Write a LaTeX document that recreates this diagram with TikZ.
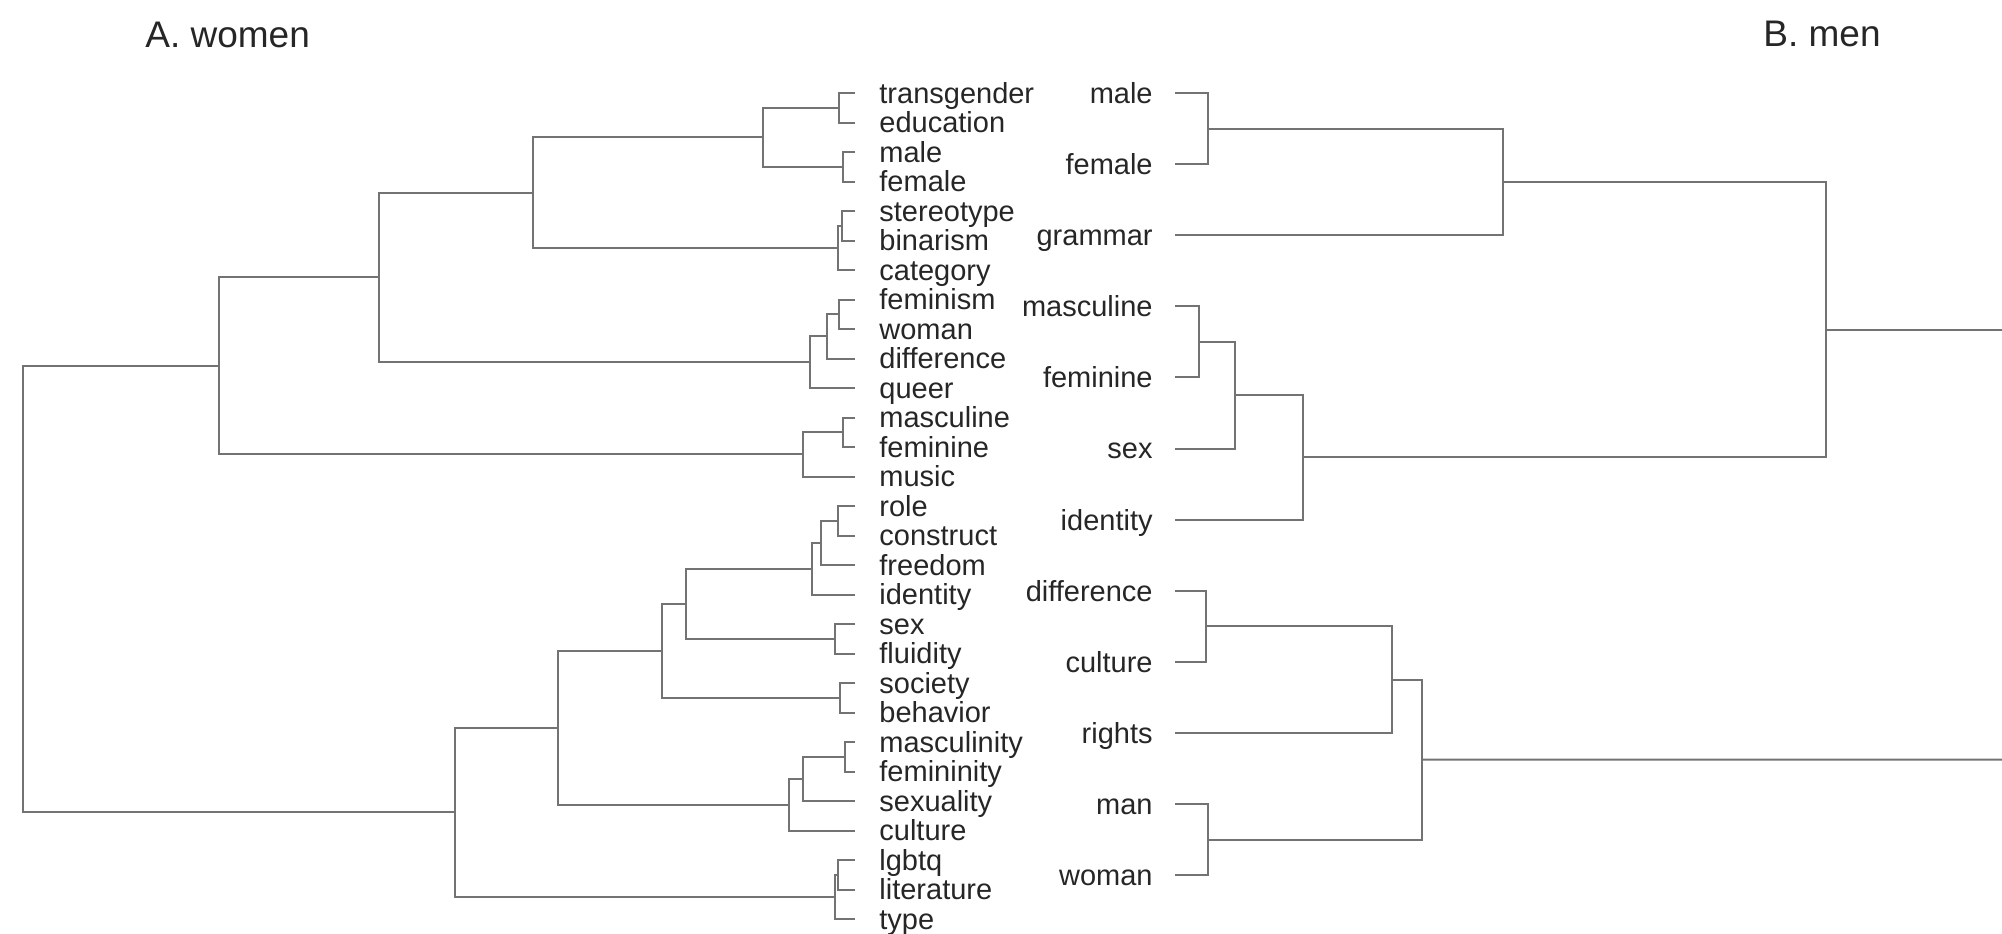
\documentclass[tikz,border=0pt]{standalone}
\usepackage{fontspec}
\setmainfont{Liberation Sans}
\usetikzlibrary{positioning,calc}

\tikzset{
  dend/.style={draw=black!55, line width=1pt},
  leaf/.style={inner sep=0pt, text=black!85, text height=10.4pt, text depth=0pt,
    font=\fontsize{14.5pt}{14.5pt}\selectfont},
  wleaf/.style={leaf, anchor=west},
  mleaf/.style={leaf, anchor=east},
  title/.style={leaf, anchor=west, text height=13.3pt,
    font=\fontsize{18.5pt}{18.5pt}\selectfont},
}

%% #1, #2 children, #3 height of the merge (pixels), #4 name of the merge
\newcommand\dendjoin[4]{%
  \path let \p1=(#1), \p2=(#2) in coordinate (#4) at ({#3*0.5pt},{0.5*\y1+0.5*\y2});
  \draw[dend] (#1) -| (#4) |- (#2);
}

\begin{document}
\begin{tikzpicture}[x=0.5pt, y=-0.5pt]

\newcommand\rowW{29.5};
\newcommand\rowM{71.1};

\useasboundingbox (0,0) rectangle (2002,933); %% spacing

\node[title] (titleA) at (145,34) {A. women};
\node[title] (titleB) at (1763,33) {B. men};

%% leaves, women
\foreach \w [count=\i from 0] in {transgender,education,male,female,stereotype,
  binarism,category,feminism,woman,difference,queer,masculine,feminine,music,
  role,construct,freedom,identity,sex,fluidity,society,behavior,masculinity,
  femininity,sexuality,culture,lgbtq,literature,type}
{
  \coordinate (w-\w) at (855,{93+\rowW*\i});
  \node[wleaf, right=12pt of w-\w] (wl-\w) {\w};
}

%% leaves, men
\foreach \w [count=\i from 0] in {male,female,grammar,masculine,feminine,sex,
  identity,difference,culture,rights,man,woman}
{
  \coordinate (m-\w) at (1175,{93+\rowM*\i});
  \node[mleaf, left=11pt of m-\w] (ml-\w) {\w};
}

%% A. women
\dendjoin{w-transgender}{w-education}{839}{wn1}
\dendjoin{w-male}{w-female}{843}{wn2}
\dendjoin{wn1}{wn2}{763}{wn3}
\dendjoin{w-stereotype}{w-binarism}{842}{wn4}
\dendjoin{wn4}{w-category}{838}{wn5}
\dendjoin{wn3}{wn5}{533}{wn6}
\dendjoin{w-feminism}{w-woman}{839}{wn7}
\dendjoin{wn7}{w-difference}{827}{wn8}
\dendjoin{wn8}{w-queer}{810}{wn9}
\dendjoin{wn6}{wn9}{379}{wn10}
\dendjoin{w-masculine}{w-feminine}{843}{wn11}
\dendjoin{wn11}{w-music}{803}{wn12}
\dendjoin{wn10}{wn12}{219}{wn13}
\dendjoin{w-role}{w-construct}{838}{wn14}
\dendjoin{wn14}{w-freedom}{821}{wn15}
\dendjoin{wn15}{w-identity}{812}{wn16}
\dendjoin{w-sex}{w-fluidity}{835}{wn17}
\dendjoin{wn16}{wn17}{686}{wn18}
\dendjoin{w-society}{w-behavior}{840}{wn19}
\dendjoin{wn18}{wn19}{662}{wn20}
\dendjoin{w-masculinity}{w-femininity}{845}{wn21}
\dendjoin{wn21}{w-sexuality}{803}{wn22}
\dendjoin{wn22}{w-culture}{789}{wn23}
\dendjoin{wn20}{wn23}{558}{wn24}
\dendjoin{w-lgbtq}{w-literature}{838}{wn25}
\dendjoin{wn25}{w-type}{835}{wn26}
\dendjoin{wn24}{wn26}{455}{wn27}
\dendjoin{wn13}{wn27}{23}{wroot}

%% B. men
\dendjoin{m-male}{m-female}{1208}{mn1}
\dendjoin{mn1}{m-grammar}{1503}{mn2}
\dendjoin{m-masculine}{m-feminine}{1199}{mn3}
\dendjoin{mn3}{m-sex}{1235}{mn4}
\dendjoin{mn4}{m-identity}{1303}{mn5}
\coordinate (mn6) at (1826,330);
\draw[dend] (mn2) -| (mn6) |- (mn5);
\dendjoin{m-difference}{m-culture}{1206}{mn7}
\dendjoin{mn7}{m-rights}{1392}{mn8}
\dendjoin{m-man}{m-woman}{1208}{mn9}
\dendjoin{mn8}{mn9}{1422}{mn10}

%% root lies beyond the right edge
\coordinate (mrootA) at (2002,330);
\coordinate (mrootB) at (2002,759.6);
\draw[dend] (mn6) -- (mrootA);
\draw[dend] (mn10) -- (mrootB);

\end{tikzpicture}
\end{document}
